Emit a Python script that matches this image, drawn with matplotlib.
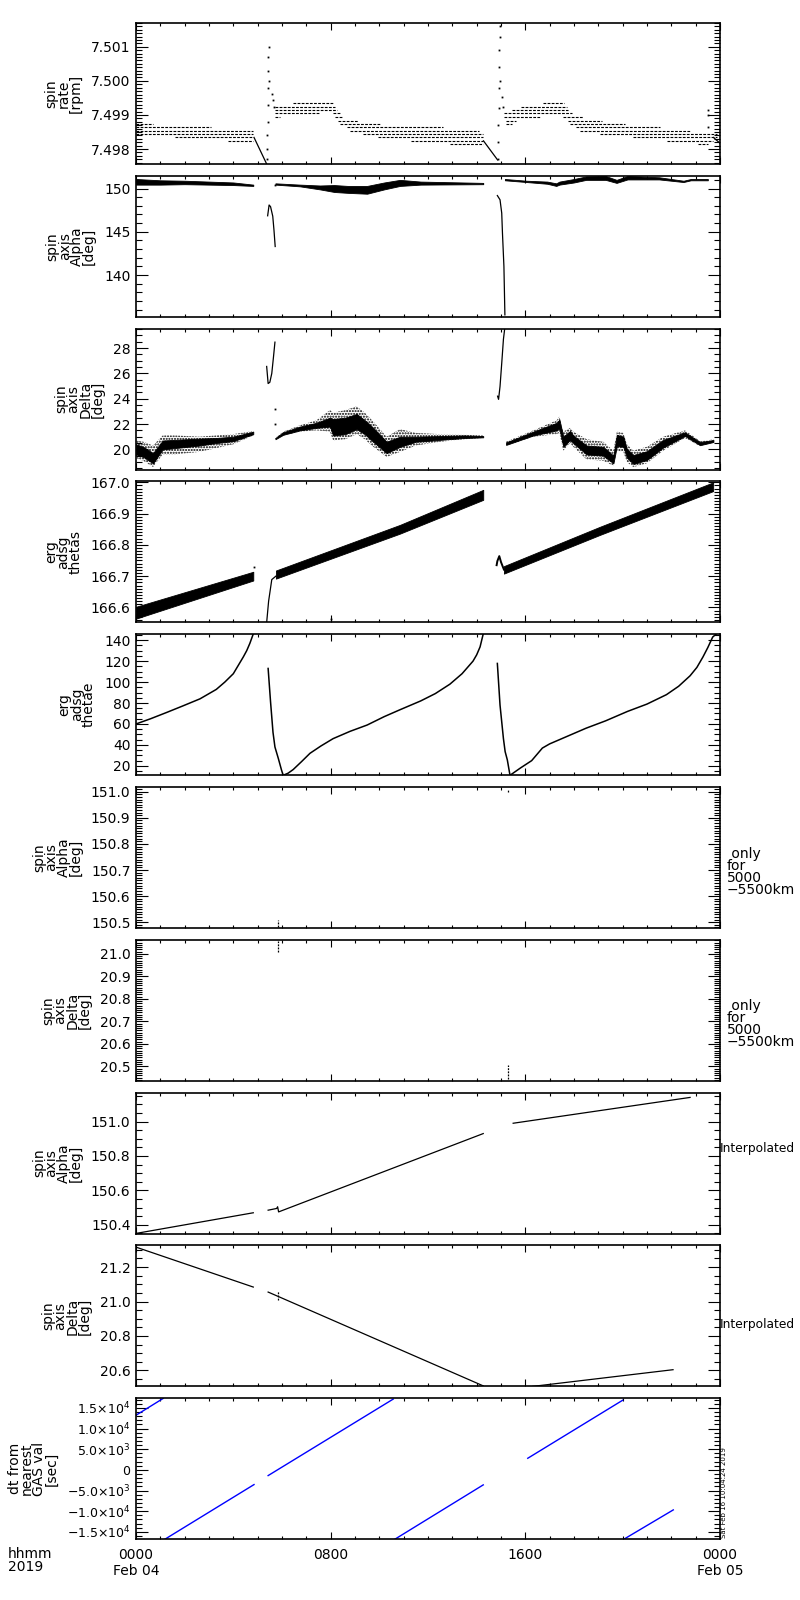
import matplotlib
matplotlib.use("Agg")
import matplotlib.pyplot as plt
import numpy as np
from matplotlib.ticker import MultipleLocator, FormatStrFormatter, FuncFormatter, FixedLocator

# time in hours since 2019-02-04 0000 UT

# ---- panel 1: spin rate [rpm], quantised levels drawn as dotted runs
rate_level = [7.49873, 7.49864, 7.49853, 7.49843, 7.49834, 7.49824,
              7.49934, 7.49924, 7.49914, 7.49905, 7.49893, 7.49905,
              7.49893, 7.49883, 7.49873, 7.49864, 7.49853, 7.49843, 7.49834, 7.49824, 7.49814,
              7.49934, 7.49924, 7.49914, 7.49905, 7.49893, 7.49883, 7.49873,
              7.49893, 7.49883, 7.49873, 7.49864, 7.49853, 7.49843, 7.49834, 7.49824, 7.49814]
rate_start = [0.0, 0.0, 0.0, 0.0, 1.6, 3.78,
              6.47, 5.73, 5.73, 5.73, 5.73, 8.1,
              8.18, 8.32, 8.38, 8.66, 8.8, 9.34, 9.96, 11.3, 12.9,
              16.71, 15.82, 15.47, 15.14, 15.14, 15.2, 15.2,
              17.56, 17.77, 17.84, 18.07, 18.25, 19.07, 20.44, 21.81, 23.1]
rate_end = [0.7, 3.1, 4.82, 4.82, 4.82, 4.82,
            8.11, 8.18, 8.25, 7.57, 5.92, 8.4,
            8.5, 9.14, 10.03, 12.6, 14.1, 14.27, 14.27, 14.27, 14.27,
            17.6, 17.7, 17.77, 17.9, 16.6, 15.6, 15.45,
            18.38, 19.14, 20.1, 21.54, 22.77, 23.87, 23.87, 23.73, 23.52]
rate_drop1_t = [4.85, 5.37]
rate_drop1_v = [7.49834, 7.49756]
rate_drop2_t = [14.28, 14.86]
rate_drop2_v = [7.49824, 7.49768]
rate_tail_t = [23.73, 24.0]
rate_tail_v = [7.49834, 7.49817]
rate_spike_t = [5.37, 5.39, 5.40, 5.41, 5.42, 5.43, 5.44, 5.44, 5.45, 5.48, 5.58, 5.64, 5.67,
                14.86, 14.88, 14.89, 14.90, 14.91, 14.92, 14.93, 14.94, 14.95, 14.96, 15.03, 15.10,
                23.52, 23.52, 23.52]
rate_spike_v = [7.4977, 7.4980, 7.4984, 7.4988, 7.4993, 7.4998, 7.5003, 7.5007, 7.5010, 7.5000,
                7.49963, 7.49944, 7.49924,
                7.4977, 7.4982, 7.4987, 7.4992, 7.4998, 7.5004, 7.5009, 7.5013, 7.5016, 7.5000,
                7.49953, 7.49922,
                7.49914, 7.49900, 7.49864]

# ---- panel 2: spin axis Alpha [deg]
alpha_a_t = [0.0, 1.0, 2.0, 3.0, 4.0, 4.82]
alpha_a_lo = [150.45, 150.45, 150.5, 150.45, 150.4, 150.3]
alpha_a_hi = [151.1, 150.95, 150.9, 150.8, 150.7, 150.45]
alpha_b_t = [5.41, 5.47, 5.53, 5.62, 5.67, 5.72]
alpha_b_v = [146.85, 148.1, 147.9, 146.8, 145.2, 143.3]
alpha_c_t = [5.73, 6.74, 7.56, 8.15, 8.7, 9.5, 10.2, 10.85, 11.7, 14.27]
alpha_c_lo = [150.45, 150.25, 149.9, 149.6, 149.5, 149.4, 149.9, 150.3, 150.45, 150.5]
alpha_c_hi = [150.6, 150.45, 150.35, 150.4, 150.3, 150.3, 150.7, 151.0, 150.8, 150.65]
alpha_d_t = [14.85, 14.96, 15.03, 15.06, 15.12, 15.16]
alpha_d_v = [149.19, 148.7, 147.16, 144.85, 141.0, 135.4]
alpha_e_t = [15.16, 16.05, 16.9, 17.27, 17.4, 18.0, 18.5, 19.3, 19.75, 20.2, 21.5, 22.5, 22.8, 23.5]
alpha_e_lo = [150.95, 150.75, 150.55, 150.3, 150.45, 150.7, 151.0, 151.0, 150.65, 151.05, 151.05,
              150.75, 150.95, 150.95]
alpha_e_hi = [151.1, 150.9, 150.8, 150.6, 150.8, 151.1, 151.4, 151.45, 151.0, 151.45, 151.3,
              150.9, 151.1, 151.1]

# ---- panel 3: spin axis Delta [deg]
delta_a_t = [0.0, 0.3, 0.7, 1.1, 1.6, 2.6, 3.3, 4.0, 4.82]
delta_a_lo = [19.6, 19.4, 18.9, 20.0, 20.1, 20.3, 20.5, 20.65, 21.2]
delta_a_hi = [20.4, 20.2, 19.7, 20.7, 20.75, 20.85, 20.9, 21.0, 21.4]
delta_a_out_lo = [19.3, 19.1, 18.6, 19.6, 19.6, 19.8, 20.1, 20.4, 21.1]
delta_a_out_hi = [20.7, 20.6, 20.3, 21.1, 21.1, 21.0, 21.1, 21.2, 21.45]
delta_s1_t = [5.37, 5.43, 5.5, 5.58, 5.65, 5.71]
delta_s1_v = [26.55, 25.2, 25.3, 26.0, 27.3, 28.47]
delta_dot_t = [5.72, 5.72]
delta_dot_v = [23.2, 22.0]
delta_b_t = [5.73, 6.05, 6.74, 7.42, 7.97, 8.1, 8.6, 9.07, 9.4, 9.75, 10.3, 10.85, 11.5, 12.5,
             13.5, 14.27]
delta_b_lo = [20.8, 21.15, 21.5, 21.7, 21.8, 21.1, 21.2, 21.6, 21.2, 20.6, 19.7, 20.2, 20.6,
              20.75, 20.9, 20.95]
delta_b_hi = [20.9, 21.35, 21.8, 22.1, 22.5, 22.4, 22.5, 22.8, 22.3, 21.7, 20.6, 21.0, 21.0,
              21.05, 21.1, 21.05]
delta_b_out_lo = [20.8, 21.1, 21.4, 21.5, 21.4, 20.7, 20.8, 21.2, 20.8, 20.2, 19.4, 19.8, 20.3,
                  20.6, 20.8, 20.9]
delta_b_out_hi = [20.9, 21.4, 21.9, 22.3, 23.1, 22.9, 23.1, 23.4, 22.9, 22.2, 21.0, 21.6, 21.3,
                  21.2, 21.15, 21.1]
delta_s2_t = [14.86, 14.9, 14.96, 15.03, 15.1, 15.15]
delta_s2_v = [24.2, 23.95, 24.97, 26.8, 28.7, 29.5]
delta_c_t = [15.21, 16.33, 17.29, 17.4, 17.56, 17.84, 17.97, 18.52, 19.2, 19.62, 19.76, 20.03,
             20.17, 20.44, 20.99, 21.67, 22.56, 23.18, 23.73]
delta_c_lo = [20.35, 21.1, 21.5, 21.65, 20.2, 20.75, 20.5, 19.6, 19.5, 18.9, 20.25, 20.2, 19.35,
              18.85, 19.15, 20.15, 21.05, 20.33, 20.58]
delta_c_hi = [20.55, 21.4, 22.1, 22.35, 21.0, 21.45, 21.1, 20.3, 20.2, 19.5, 21.15, 21.0, 20.05,
              19.55, 19.85, 20.75, 21.35, 20.57, 20.74]
delta_c_out_lo = [20.3, 21.0, 21.2, 21.3, 19.9, 20.5, 20.2, 19.2, 19.1, 18.7, 19.9, 19.8, 19.0,
                  18.6, 18.9, 19.9, 20.9, 20.25, 20.55]
delta_c_out_hi = [20.6, 21.5, 22.3, 22.6, 21.4, 21.7, 21.4, 20.8, 20.6, 19.9, 21.4, 21.3, 20.4,
                  19.9, 20.2, 21.0, 21.5, 20.65, 20.78]

# ---- panel 4: erg adsg thetas
thetas_a_t = [0.0, 4.82]
thetas_a_c = [166.583, 166.700]
thetas_a_hw = [0.019, 0.014]
thetas_b_t = [5.37, 5.45, 5.58, 5.75]
thetas_b_v = [166.552, 166.62, 166.689, 166.70]
thetas_c_t = [5.75, 10.85, 14.27]
thetas_c_c = [166.705, 166.850, 166.960]
thetas_c_hw = [0.013, 0.014, 0.016]
thetas_d_t = [14.82, 14.85, 14.93, 15.0, 15.12]
thetas_d_v = [166.735, 166.748, 166.764, 166.745, 166.721]
thetas_e_t = [15.12, 19.07, 23.72]
thetas_e_c = [166.720, 166.845, 166.986]
thetas_e_hw = [0.012, 0.013, 0.014]
thetas_dot_t = [4.85, 8.0]
thetas_dot_v = [166.73, 166.562]

# ---- panel 5: erg adsg thetae
thetae_a_t = [0.0, 0.6, 1.26, 1.9, 2.63, 3.3, 3.65, 4.0, 4.41, 4.55, 4.68, 4.82]
thetae_a_v = [60, 65, 71, 77, 84, 93, 100, 108, 124, 130, 137, 146]
thetae_b_t = [5.43, 5.53, 5.63, 5.71, 5.85, 5.98, 6.05, 6.25, 6.46, 6.8, 7.15, 7.6, 8.1, 8.8,
              9.5, 10.2, 10.85, 11.7, 12.3, 12.9, 13.4, 13.85, 14.0, 14.14, 14.27]
thetae_b_v = [113, 81, 52, 38, 27, 16, 11, 13, 16.5, 24, 32, 39, 46, 53, 59, 67, 73.6, 82, 89,
              98, 108, 120, 126, 133.6, 146]
thetae_c_t = [14.85, 14.96, 15.1, 15.17, 15.26, 15.37, 15.8, 16.26, 16.7, 17.0, 17.4, 18.5,
              19.3, 20.2, 21.0, 21.8, 22.3, 22.77, 23.05, 23.3, 23.5, 23.7, 23.85]
thetae_c_v = [117.8, 78, 46, 33.6, 25.7, 11, 18, 25, 37, 41, 45, 56, 63, 72, 79, 88, 96, 106,
              114, 124, 133, 143, 146]

# ---- panels 6/7: only for 5000-5500km (a few short samples)
alpha_km_t = [5.84, 15.3]
alpha_km_lo = [150.483, 150.997]
alpha_km_hi = [150.509, 151.012]
delta_km_t = [5.84, 15.3]
delta_km_lo = [21.010, 20.444]
delta_km_hi = [21.055, 20.507]

# ---- panels 8/9: interpolated
alpha_int_t = [[0.0, 4.82], [5.43, 5.78, 5.82, 5.86, 14.27], [15.5, 22.77]]
alpha_int_v = [[150.35, 150.47], [150.485, 150.495, 150.505, 150.475, 150.93], [150.99, 151.14]]
delta_int_t = [[0.0, 4.82], [5.43, 14.27], [16.3, 22.07]]
delta_int_v = [[21.316, 21.084], [21.055, 20.51], [20.507, 20.604]]
delta_int_blip_t = 5.84
delta_int_blip_v = [21.01, 21.062]

# ---- panel 10: dt from nearest GAS val [sec]
dt_t0 = [0.0, 1.19, 5.43, 10.64, 16.1, 20.05]
dt_v0 = [13218, -16770, -1380, -16770, 2810, -16770]
dt_t1 = [1.12, 4.85, 10.57, 14.27, 20.0, 22.08]
dt_v1 = [17300, -3557, 17124, -3630, 16850, -9680]

xtick_pos = [0, 8, 16, 24]
xtick_lab = ["0000\nFeb 04", "0800", "1600", "0000\nFeb 05"]

plt.rcParams["font.family"] = ["DejaVu Sans"]
plt.rcParams["axes.linewidth"] = 1.2
plt.rcParams["hatch.linewidth"] = 1.0

fig = plt.figure(figsize=(8, 16), dpi=100)

LW = 0.9
DOT = dict(ls="none", marker="s", ms=1.3, mew=0, color="black")


def panel(i):
    top = 23 + i * 152.8
    return fig.add_axes([136 / 800, 1 - (top + 141) / 1600, 584 / 800, 141 / 1600])


def style(ax, ylim, major, minor, fmt, ylabel, tsize=10):
    ax.set_xlim(0, 24)
    ax.set_ylim(*ylim)
    ax.xaxis.set_major_locator(FixedLocator(xtick_pos))
    ax.xaxis.set_minor_locator(MultipleLocator(1))
    ax.yaxis.set_major_locator(MultipleLocator(major))
    ax.yaxis.set_minor_locator(MultipleLocator(minor))
    if fmt is not None:
        ax.yaxis.set_major_formatter(FormatStrFormatter(fmt))
    ax.tick_params(which="both", direction="in", top=True, right=True, width=0.8,
                   labelsize=tsize, pad=4)
    ax.tick_params(axis="y", which="major", length=8.5)
    ax.tick_params(axis="y", which="minor", length=4.3)
    ax.tick_params(axis="x", which="major", length=5)
    ax.tick_params(axis="x", which="minor", length=2.5)
    ax.set_xticklabels([])
    ax.set_ylabel(ylabel, fontsize=10, linespacing=0.82, labelpad=6)


def noisy(ax, t, lo, hi):
    # sparse scatter of the raw samples shown as a dotted texture
    ax.fill_between(t, lo, hi, facecolor="none", edgecolor="black", hatch="......", lw=0)


axes = [panel(i) for i in range(10)]

# panel 1
ax = axes[0]
ax.hlines(rate_level, rate_start, rate_end, colors="black", linewidth=0.8,
          linestyles=[(0, (2.5, 1.2))])
ax.plot(rate_drop1_t, rate_drop1_v, color="black", lw=LW)
ax.plot(rate_drop2_t, rate_drop2_v, color="black", lw=LW)
ax.plot(rate_tail_t, rate_tail_v, color="black", lw=LW)
ax.plot(rate_spike_t, rate_spike_v, **DOT)
style(ax, (7.49756, 7.5017), 0.001, 0.0001, "%.3f", "spin\nrate\n[rpm]")

# panel 2
ax = axes[1]
ax.fill_between(alpha_a_t, alpha_a_lo, alpha_a_hi, color="black", lw=0.6)
ax.plot(alpha_b_t, alpha_b_v, color="black", lw=LW)
ax.plot([5.72], [150.4], **DOT)
ax.fill_between(alpha_c_t, alpha_c_lo, alpha_c_hi, color="black", lw=0.6)
ax.plot(alpha_d_t, alpha_d_v, color="black", lw=LW)
ax.fill_between(alpha_e_t, alpha_e_lo, alpha_e_hi, color="black", lw=0.6)
style(ax, (135.18, 151.47), 5, 1, "%d", "spin\naxis\nAlpha\n[deg]")

# panel 3
ax = axes[2]
for t, olo, ohi, lo, hi in [(delta_a_t, delta_a_out_lo, delta_a_out_hi, delta_a_lo, delta_a_hi),
                            (delta_b_t, delta_b_out_lo, delta_b_out_hi, delta_b_lo, delta_b_hi),
                            (delta_c_t, delta_c_out_lo, delta_c_out_hi, delta_c_lo, delta_c_hi)]:
    noisy(ax, t, olo, ohi)
    ax.fill_between(t, lo, hi, color="black", lw=0.6)
ax.plot(delta_s1_t, delta_s1_v, color="black", lw=LW)
ax.plot(delta_s2_t, delta_s2_v, color="black", lw=LW)
ax.plot(delta_dot_t, delta_dot_v, **DOT)
style(ax, (18.4, 29.54), 2, 0.5, "%d", "spin\naxis\nDelta\n[deg]")

# panel 4
ax = axes[3]
for t, c, hw in [(thetas_a_t, thetas_a_c, thetas_a_hw), (thetas_c_t, thetas_c_c, thetas_c_hw),
                 (thetas_e_t, thetas_e_c, thetas_e_hw)]:
    c = np.array(c)
    hw = np.array(hw)
    ax.fill_between(t, c - hw, c + hw, color="black", lw=0.6)
ax.plot(thetas_b_t, thetas_b_v, color="black", lw=LW)
ax.plot(thetas_d_t, thetas_d_v, color="black", lw=1.4)
ax.plot(thetas_dot_t, thetas_dot_v, **DOT)
style(ax, (166.552, 167.003), 0.1, 0.01, "%.1f", "erg\nadsg\nthetas")

# panel 5
ax = axes[4]
ax.plot(thetae_a_t, thetae_a_v, color="black", lw=1.1)
ax.plot(thetae_b_t, thetae_b_v, color="black", lw=1.1)
ax.plot(thetae_c_t, thetae_c_v, color="black", lw=1.1)
style(ax, (11.1, 145.7), 20, 5, "%d", "erg\nadsg\nthetae")

km_text = " only\nfor\n5000\n\u22125500km"

# panel 6
ax = axes[5]
ax.vlines(alpha_km_t, alpha_km_lo, alpha_km_hi, colors="black", lw=0.9, linestyles=[(0, (1.5, 1))])
style(ax, (150.478, 151.018), 0.1, 0.01, "%.1f", "spin\naxis\nAlpha\n[deg]")
ax.text(1.012, 0.40, km_text, transform=ax.transAxes, ha="left", va="center", fontsize=10,
        linespacing=0.82)

# panel 7
ax = axes[6]
ax.vlines(delta_km_t, delta_km_lo, delta_km_hi, colors="black", lw=0.9, linestyles=[(0, (1.5, 1))])
style(ax, (20.436, 21.062), 0.1, 0.01, "%.1f", "spin\naxis\nDelta\n[deg]")
ax.text(1.012, 0.40, km_text, transform=ax.transAxes, ha="left", va="center", fontsize=10,
        linespacing=0.82)

# panel 8
ax = axes[7]
for t, v in zip(alpha_int_t, alpha_int_v):
    ax.plot(t, v, color="black", lw=LW)
style(ax, (150.349, 151.168), 0.2, 0.05, "%.1f", "spin\naxis\nAlpha\n[deg]")
ax.text(0.999, 0.606, "Interpolated", transform=ax.transAxes, ha="left", va="center", fontsize=8.8)

# panel 9
ax = axes[8]
for t, v in zip(delta_int_t, delta_int_v):
    ax.plot(t, v, color="black", lw=LW)
ax.vlines([delta_int_blip_t], delta_int_blip_v[0], delta_int_blip_v[1], colors="black", lw=0.9,
          linestyles=[(0, (1.5, 1))])
style(ax, (20.507, 21.326), 0.2, 0.05, "%.1f", "spin\naxis\nDelta\n[deg]")
ax.text(0.999, 0.44, "Interpolated", transform=ax.transAxes, ha="left", va="center", fontsize=8.8)

# panel 10
ax = axes[9]
for t0, v0, t1, v1 in zip(dt_t0, dt_v0, dt_t1, dt_v1):
    ax.plot([t0, t1], [v0, v1], color="blue", lw=1.0)


def sci(v, pos):
    if v == 0:
        return "0"
    exp = int(np.floor(np.log10(abs(v)) + 1e-9))
    mant = abs(v) / 10 ** exp
    sign = "\u2212" if v < 0 else ""
    return f"{sign}{mant:.1f}\u00d710$^{{{exp}}}$"


style(ax, (-16770, 17340), 5000, 1000, None, "dt from\nnearest\nGAS val\n[sec]", tsize=9)
ax.yaxis.set_major_locator(FixedLocator([-15000, -10000, -5000, 0, 5000, 10000, 15000]))
ax.yaxis.set_major_formatter(FuncFormatter(sci))
ax.set_xticks(xtick_pos)
ax.set_xticklabels(xtick_lab, fontsize=10)
ax.tick_params(axis="x", pad=6)

fig.text(8 / 800, 1 - 1547 / 1600, "hhmm\n2019", ha="left", va="top", fontsize=10, linespacing=0.95)
fig.text(721 / 800, 1 - 1538 / 1600, "Sat Feb 16 10:04:24 2019", rotation=90, ha="left",
         va="bottom", fontsize=5)

fig.savefig("out.png", dpi=100)
